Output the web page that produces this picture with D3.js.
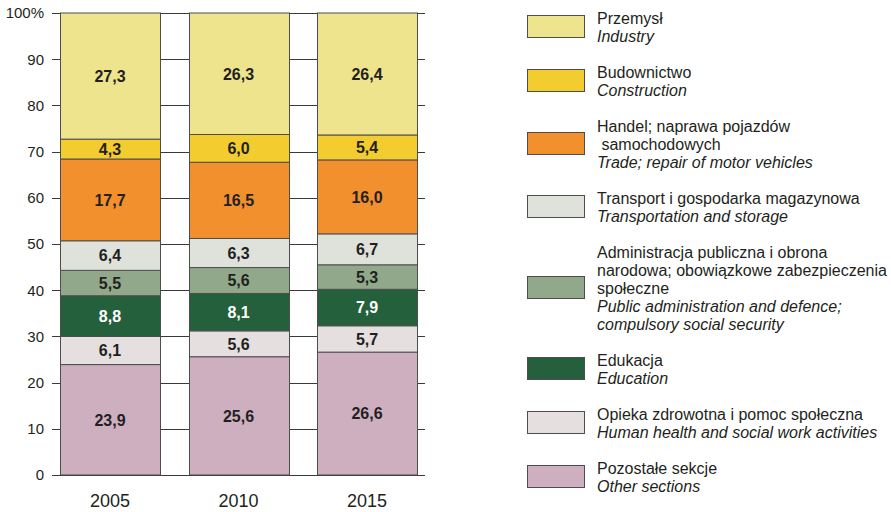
<!DOCTYPE html>
<html>
<head>
<meta charset="utf-8">
<script src="https://cdn.jsdelivr.net/npm/d3@7"></script>
<style>
	body { margin: 0; background: #fff; }
	svg { font-family: "Liberation Sans", Arial, sans-serif; }
</style>
</head>
<body>
<div id="chart"></div>
<script>

//Data
var years = ["2005", "2010", "2015"];
var sections = ["pozostale", "opieka", "edukacja", "administracja", "transport", "handel", "budownictwo", "przemysl"];
var pozostale     = [23.9, 25.6, 26.6];
var opieka        = [6.1, 5.6, 5.7];
var edukacja      = [8.8, 8.1, 7.9];
var administracja = [5.5, 5.6, 5.3];
var transport     = [6.4, 6.3, 6.7];
var handel        = [17.7, 16.5, 16.0];
var budownictwo   = [4.3, 6.0, 5.4];
var przemysl      = [27.3, 26.3, 26.4];
var yTicks = [0, 10, 20, 30, 40, 50, 60, 70, 80, 90, 100];

var colours = {
	przemysl: "#EEE48E",
	budownictwo: "#F3CC2F",
	handel: "#F3902E",
	transport: "#DEE2DB",
	administracja: "#91A98A",
	edukacja: "#23603B",
	opieka: "#E5DFDF",
	pozostale: "#CEAFC0"
};

//Legend texts, top to bottom: [polish lines, english lines]
var legendItems = [
	{key: "przemysl", pl: ["Przemysł"], en: ["Industry"]},
	{key: "budownictwo", pl: ["Budownictwo"], en: ["Construction"]},
	{key: "handel", pl: ["Handel; naprawa pojazdów", " samochodowych"], en: ["Trade; repair of motor vehicles"]},
	{key: "transport", pl: ["Transport i gospodarka magazynowa"], en: ["Transportation and storage"]},
	{key: "administracja", pl: ["Administracja publiczna i obrona", "narodowa; obowiązkowe zabezpieczenia", "społeczne"], en: ["Public administration and defence;", "compulsory social security"]},
	{key: "edukacja", pl: ["Edukacja"], en: ["Education"]},
	{key: "opieka", pl: ["Opieka zdrowotna i pomoc społeczna"], en: ["Human health and social work activities"]},
	{key: "pozostale", pl: ["Pozostałe sekcje"], en: ["Other sections"]}
];

var seriesValues = {
	pozostale: pozostale, opieka: opieka, edukacja: edukacja, administracja: administracja,
	transport: transport, handel: handel, budownictwo: budownictwo, przemysl: przemysl
};

var table = years.map(function(y, i) {
	var row = {year: y};
	sections.forEach(function(s) { row[s] = seriesValues[s][i]; });
	return row;
});

///////////////////////////////////////////////////////////////////////////
//////////////////// Set up and initiate svg container ////////////////////
///////////////////////////////////////////////////////////////////////////

var width = 891, height = 512;

var svg = d3.select("#chart").append("svg")
	.attr("width", width)
	.attr("height", height);

var x = d3.scaleBand()
	.domain(years)
	.range([60, 417])
	.paddingInner(0.222)
	.paddingOuter(0);

var y = d3.scaleLinear()
	.domain([0, 100])
	.range([475, 13]);

//Gridlines and ticks
svg.append("g")
	.selectAll("line")
	.data(yTicks)
	.enter().append("line")
	.attr("x1", 52)
	.attr("x2", 425)
	.attr("y1", function(d) { return Math.round(y(d)) + 0.5; })
	.attr("y2", function(d) { return Math.round(y(d)) + 0.5; })
	.style("stroke", "#3a3a3a")
	.style("stroke-width", 1);

svg.append("g")
	.selectAll("text")
	.data(yTicks)
	.enter().append("text")
	.attr("x", 44)
	.attr("y", function(d) { return y(d); })
	.attr("dy", "0.36em")
	.attr("text-anchor", "end")
	.style("font-size", "15px")
	.style("fill", "#231f20")
	.text(function(d) { return d === 100 ? "100%" : d; });

///////////////////////////////////////////////////////////////////////////
/////////////////////////////// The bars //////////////////////////////////
///////////////////////////////////////////////////////////////////////////

var stacked = d3.stack().keys(sections)(table);

var layers = svg.append("g")
	.selectAll("g")
	.data(stacked)
	.enter().append("g")
	.style("fill", function(d) { return colours[d.key]; });

layers.selectAll("rect")
	.data(function(d) { return d; })
	.enter().append("rect")
	.attr("x", function(d) { return Math.round(x(d.data.year)) + 0.5; })
	.attr("y", function(d) { return y(d[1]); })
	.attr("width", Math.round(x.bandwidth()))
	.attr("height", function(d) { return y(d[0]) - y(d[1]); })
	.style("stroke", "#4d4d4d")
	.style("stroke-width", 1);

layers.selectAll("text")
	.data(function(d) { return d.map(function(v) { v.key = d.key; return v; }); })
	.enter().append("text")
	.attr("x", function(d) { return x(d.data.year) + x.bandwidth() / 2; })
	.attr("y", function(d) { return (y(d[0]) + y(d[1])) / 2; })
	.attr("dy", "0.36em")
	.attr("text-anchor", "middle")
	.style("font-size", "16px")
	.style("font-weight", "bold")
	.style("fill", function(d) { return d.key === "edukacja" ? "#ffffff" : "#231f20"; })
	.text(function(d) { return d.data[d.key].toFixed(1).replace(".", ","); });

//Year labels
svg.append("g")
	.selectAll("text")
	.data(years)
	.enter().append("text")
	.attr("x", function(d) { return x(d) + x.bandwidth() / 2; })
	.attr("y", 507)
	.attr("text-anchor", "middle")
	.style("font-size", "18px")
	.style("fill", "#231f20")
	.text(function(d) { return d; });

///////////////////////////////////////////////////////////////////////////
////////////////////////////// The legend /////////////////////////////////
///////////////////////////////////////////////////////////////////////////

var lineH = 18;
var legend = svg.append("g").attr("class", "legend");
var yPos = 18;

legendItems.forEach(function(item) {
	var lines = item.pl.map(function(t) { return {t: t, it: false}; })
		.concat(item.en.map(function(t) { return {t: t, it: true}; }));
	var firstY = yPos;
	var lastY = yPos + (lines.length - 1) * lineH;
	var mid = (firstY + lastY) / 2;

	legend.append("rect")
		.attr("x", 527.5)
		.attr("y", Math.round(mid - 12) + 0.5)
		.attr("width", 57)
		.attr("height", 22)
		.style("fill", colours[item.key])
		.style("stroke", "#4d4d4d")
		.style("stroke-width", 1);

	lines.forEach(function(l, i) {
		legend.append("text")
			.attr("x", 597)
			.attr("y", firstY + i * lineH)
			.attr("dy", "0.36em")
			.style("font-size", "16px")
			.style("font-style", l.it ? "italic" : "normal")
			.style("fill", "#231f20")
			.style("white-space", "pre")
			.text(l.t);
	});

	yPos = lastY + 2 * lineH;
});

</script>
</body>
</html>
